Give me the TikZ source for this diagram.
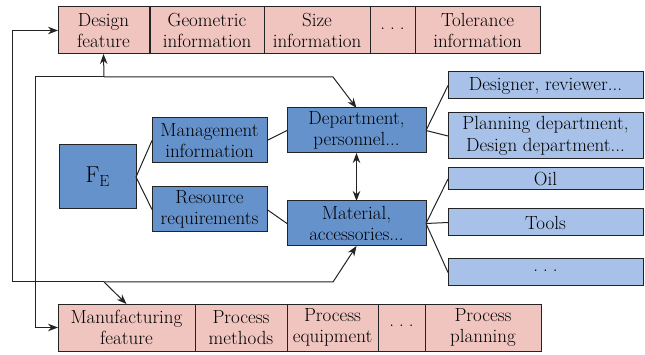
\documentclass[tikz,border=0pt]{standalone}
\usepackage{fontspec}
\setmainfont{Latin Modern Roman}
\usetikzlibrary{arrows.meta}
\definecolor{pinkc}{RGB}{240,197,192}
\definecolor{bluec}{RGB}{102,146,204}
\definecolor{lbluec}{RGB}{168,193,232}
\definecolor{linec}{RGB}{35,35,35}
\newcommand{\mydots}{\raisebox{3pt}{.\kern5pt.\kern5pt.}}
\tikzset{
  base/.style={draw=linec, line width=1pt, inner sep=0pt, outer sep=0pt, align=center, font=\fontsize{19}{21.5}\selectfont},
  cell/.style={base, fill=pinkc, minimum height=47pt},
  dbox/.style={base, fill=bluec},
  lbox/.style={base, fill=lbluec, minimum width=195pt},
  conn/.style={draw=linec, line width=1pt},
  arr/.style={conn, -{Stealth[length=10pt,width=7.5pt]}},
}
\begin{document}
\begin{tikzpicture}[x=1pt,y=-1pt]
\useasboundingbox (0,0) rectangle (645,355);
% top row
\node[cell, minimum width=91pt] (d1) at (103.5,30.5) {Design\\feature};
\node[cell, minimum width=114pt] (d2) at (207,30.5) {Geometric\\information};
\node[cell, minimum width=106pt] (d3) at (317,30.5) {Size\\information};
\node[cell, minimum width=45pt] (d4) at (392.5,30.5) {\mydots};
\node[cell, minimum width=125pt] (d5) at (477.5,30.5) {Tolerance\\information};
% bottom row
\node[cell, minimum width=137pt] (m1) at (126.5,327.5) {Manufacturing\\feature};
\node[cell, minimum width=92pt] (m2) at (241,327.5) {Process\\methods};
\node[cell, minimum width=91pt] (m3) at (332.5,327.5) {Process\\equipment};
\node[cell, minimum width=47pt] (m4) at (401.5,327.5) {\mydots};
\node[cell, minimum width=116pt] (m5) at (483,327.5) {Process\\planning};
% middle
\node[dbox, minimum width=77pt, minimum height=64pt] (fe) at (97.5,177) {\fontsize{23}{25}\selectfont F\raisebox{-0.4ex}{\fontsize{16}{16}\selectfont E}};
\node[dbox, minimum width=115pt, minimum height=45pt] (mg) at (209.5,140.5) {Management\\information};
\node[dbox, minimum width=115pt, minimum height=45pt] (rs) at (209.5,209.5) {Resource\\requirements};
\node[dbox, minimum width=139pt, minimum height=45pt] (dp) at (356.5,130.5) {Department,\\personnel...};
\node[dbox, minimum width=139pt, minimum height=45pt] (mt) at (356.5,223.5) {Material,\\accessories...};
% right
\node[lbox, minimum height=27pt] (r1) at (545.5,85.5) {Designer, reviewer...};
\node[lbox, minimum height=46pt] (r2) at (545.5,136) {Planning department,\\Design department...};
\node[lbox, minimum height=22pt] (r3) at (545.5,179) {Oil};
\node[lbox, minimum height=27pt] (r4) at (545.5,222.5) {Tools};
\node[lbox, minimum height=27pt] (r5) at (545.5,272.5) {\mydots};
% tree connectors
\draw[conn] (fe.east) -- (mg.west);
\draw[conn] (fe.east) -- (rs.west);
\draw[conn] (mg.east) -- (dp.west);
\draw[conn] (rs.east) -- (mt.west);
\draw[conn] (dp.east) -- (r1.west);
\draw[conn] (dp.east) -- (r2.west);
\draw[conn] (mt.east) -- (r3.west);
\draw[conn] (mt.east) -- (r4.west);
\draw[conn] (mt.east) -- (r5.west);
\draw[conn, {Stealth[length=10pt,width=7.5pt]}-{Stealth[length=10pt,width=7.5pt]}] (dp.south) -- (mt.north);
% loops
\coordinate (a1) at (35,77);
\coordinate (a2) at (104,77);
\coordinate (a3) at (333,77);
\coordinate (b1) at (12,282);
\coordinate (b2) at (104,282);
\coordinate (b3) at (333,282);
\draw[arr] (a2) -- (a1) |- (m1.west);
\draw[arr] (a2) -- (d1.south);
\draw[arr] (a2) -- (a3) -- (dp.north);
\draw[arr] (b2) -- (b1) |- (d1.west);
\draw[arr] (b2) -- (m1.north);
\draw[arr] (b2) -- (b3) -- (mt.south);
\end{tikzpicture}
\end{document}
